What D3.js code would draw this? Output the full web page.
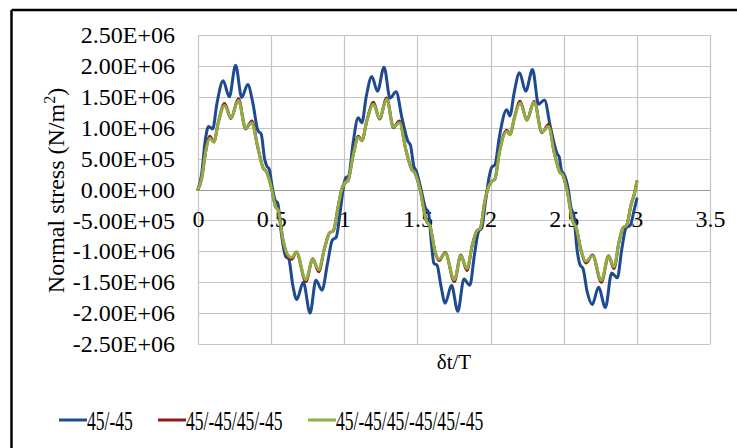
<!DOCTYPE html>
<html>
<head>
<meta charset="utf-8">
<script src="https://cdn.jsdelivr.net/npm/d3@7"></script>
<style>
  html, body { margin: 0; padding: 0; background: #fff; overflow: hidden; }
  svg { display: block; }
  svg text { font-family: "Liberation Serif", "DejaVu Serif", serif; fill: #000; }
</style>
</head>
<body>
<svg id="chart" width="737" height="448"></svg>
<script>
// Tick values
const xTicks = [0, 0.5, 1, 1.5, 2, 2.5, 3, 3.5];
const yTicks = [-2.5e6, -2e6, -1.5e6, -1e6, -5e5, 0, 5e5, 1e6, 1.5e6, 2e6, 2.5e6];

// Series names
const seriesNames = ["45/-45", "45/-45/45/-45", "45/-45/45/-45/45/-45"];

// 45/-45 laminate: time (δt/T) and normal stress (N/m²)
const tBlue = [
  0.000, 0.025, 0.050, 0.072, 0.100, 0.130, 0.172, 0.214, 0.257, 0.299, 0.340, 0.375,
  0.410, 0.432, 0.455, 0.470, 0.487, 0.507, 0.527, 0.545, 0.572, 0.600, 0.620, 0.648,
  0.675, 0.720, 0.766, 0.806, 0.848, 0.885, 0.918, 0.945, 0.970, 0.995, 1.010, 1.030,
  1.060, 1.095, 1.120, 1.150, 1.188, 1.227, 1.272, 1.313, 1.354, 1.395, 1.435, 1.452,
  1.475, 1.492, 1.525, 1.555, 1.575, 1.595, 1.612, 1.635, 1.660, 1.690, 1.733, 1.776,
  1.818, 1.858, 1.890, 1.918, 1.940, 1.965, 1.990, 2.008, 2.030, 2.060, 2.110, 2.132,
  2.160, 2.198, 2.240, 2.287, 2.328, 2.368, 2.410, 2.455, 2.470, 2.485, 2.502, 2.533,
  2.550, 2.568, 2.590, 2.612, 2.632, 2.660, 2.695, 2.738, 2.785, 2.828, 2.866, 2.898,
  2.926, 2.955, 2.980, 3.000
];
const sBlue = [
  0.00e6, 0.25e6, 0.80e6, 1.02e6, 0.98e6, 1.40e6, 1.76e6, 1.50e6, 2.01e6, 1.49e6, 1.70e6, 1.40e6,
  0.95e6, 0.90e6, 0.50e6, 0.38e6, 0.33e6, 0.05e6, -0.17e6, -0.22e6, -0.75e6, -1.09e6, -1.12e6, -1.55e6,
  -1.78e6, -1.50e6, -2.00e6, -1.47e6, -1.63e6, -1.20e6, -0.82e6, -0.77e6, -0.40e6, 0.05e6, 0.19e6, 0.22e6,
  0.75e6, 1.16e6, 1.08e6, 1.50e6, 1.83e6, 1.59e6, 1.98e6, 1.48e6, 1.58e6, 1.15e6, 0.78e6, 0.72e6,
  0.38e6, 0.30e6, 0.00e6, -0.30e6, -0.37e6, -0.85e6, -1.19e6, -1.23e6, -1.55e6, -1.84e6, -1.55e6, -1.97e6,
  -1.45e6, -1.55e6, -1.05e6, -0.68e6, -0.62e6, -0.20e6, 0.20e6, 0.36e6, 0.40e6, 0.85e6, 1.29e6, 1.19e6,
  1.55e6, 1.89e6, 1.59e6, 1.94e6, 1.38e6, 1.45e6, 1.00e6, 0.58e6, 0.52e6, 0.30e6, 0.25e6, -0.02e6,
  -0.30e6, -0.40e6, -0.95e6, -1.22e6, -1.28e6, -1.65e6, -1.86e6, -1.58e6, -1.91e6, -1.35e6, -1.43e6, -0.95e6,
  -0.62e6, -0.58e6, -0.35e6, -0.15e6
];

// 45/-45/45/-45 and 45/-45/45/-45/45/-45 laminates share the same time points
const tLayered = [
  0.000, 0.025, 0.055, 0.082, 0.108, 0.140, 0.182, 0.225, 0.276, 0.326, 0.368, 0.405,
  0.447, 0.465, 0.505, 0.530, 0.548, 0.580, 0.612, 0.640, 0.672, 0.737, 0.785, 0.825,
  0.865, 0.900, 0.925, 0.960, 0.985, 1.005, 1.025, 1.060, 1.097, 1.120, 1.155, 1.200,
  1.240, 1.290, 1.336, 1.377, 1.420, 1.462, 1.480, 1.518, 1.560, 1.587, 1.620, 1.648,
  1.690, 1.752, 1.797, 1.838, 1.875, 1.906, 1.930, 1.960, 1.982, 2.009, 2.030, 2.060,
  2.111, 2.132, 2.165, 2.202, 2.248, 2.298, 2.351, 2.396, 2.435, 2.476, 2.492, 2.522,
  2.560, 2.585, 2.620, 2.652, 2.697, 2.757, 2.807, 2.843, 2.878, 2.905, 2.930, 2.960,
  2.985, 3.000
];
const sRed = [
  0.00e6, 0.18e6, 0.65e6, 0.86e6, 0.77e6, 1.10e6, 1.39e6, 1.15e6, 1.47e6, 0.98e6, 1.11e6, 0.72e6,
  0.34e6, 0.30e6, 0.00e6, -0.28e6, -0.33e6, -0.80e6, -1.07e6, -1.13e6, -1.01e6, -1.49e6, -1.12e6, -1.33e6,
  -0.95e6, -0.70e6, -0.67e6, -0.25e6, 0.02e6, 0.11e6, 0.14e6, 0.55e6, 0.86e6, 0.79e6, 1.12e6, 1.41e6,
  1.14e6, 1.48e6, 1.00e6, 1.11e6, 0.65e6, 0.32e6, 0.28e6, 0.00e6, -0.50e6, -0.60e6, -1.00e6, -1.15e6,
  -1.02e6, -1.49e6, -1.06e6, -1.31e6, -0.90e6, -0.67e6, -0.63e6, -0.20e6, 0.02e6, 0.13e6, 0.17e6, 0.60e6,
  0.96e6, 0.89e6, 1.18e6, 1.43e6, 1.12e6, 1.43e6, 0.92e6, 1.05e6, 0.60e6, 0.27e6, 0.24e6, 0.00e6,
  -0.50e6, -0.62e6, -1.00e6, -1.19e6, -1.06e6, -1.50e6, -1.07e6, -1.28e6, -0.85e6, -0.62e6, -0.58e6, -0.25e6,
  -0.05e6, 0.13e6
];
const sGreen = [
  0.00e6, 0.18e6, 0.65e6, 0.83e6, 0.77e6, 1.10e6, 1.36e6, 1.16e6, 1.44e6, 0.99e6, 1.08e6, 0.72e6,
  0.34e6, 0.30e6, 0.00e6, -0.28e6, -0.33e6, -0.80e6, -1.05e6, -1.10e6, -1.01e6, -1.46e6, -1.13e6, -1.30e6,
  -0.95e6, -0.70e6, -0.67e6, -0.25e6, 0.02e6, 0.11e6, 0.14e6, 0.55e6, 0.84e6, 0.79e6, 1.12e6, 1.38e6,
  1.15e6, 1.46e6, 1.01e6, 1.08e6, 0.65e6, 0.32e6, 0.28e6, 0.00e6, -0.50e6, -0.60e6, -1.00e6, -1.13e6,
  -1.03e6, -1.46e6, -1.07e6, -1.28e6, -0.90e6, -0.67e6, -0.63e6, -0.20e6, 0.02e6, 0.13e6, 0.17e6, 0.60e6,
  0.94e6, 0.89e6, 1.18e6, 1.40e6, 1.13e6, 1.41e6, 0.93e6, 1.02e6, 0.60e6, 0.27e6, 0.24e6, 0.00e6,
  -0.50e6, -0.62e6, -1.00e6, -1.16e6, -1.07e6, -1.47e6, -1.08e6, -1.25e6, -0.85e6, -0.62e6, -0.58e6, -0.25e6,
  -0.05e6, 0.13e6
];

const FONT = '"Liberation Serif", "DejaVu Serif", serif';
const svg = d3.select("#chart");
const W = 737, H = 448;

// Outer frame of the chart object (top and left edges fall inside the view)
svg.append("line").attr("x1", 11.5).attr("x2", W).attr("y1", 10).attr("y2", 10)
  .attr("stroke", "#000").attr("stroke-width", 2.5);
svg.append("line").attr("x1", 11.5).attr("x2", 11.5).attr("y1", 10).attr("y2", H)
  .attr("stroke", "#000").attr("stroke-width", 2.5);

const plot = { left: 198, right: 710, top: 35, bottom: 344 };

const x = d3.scaleLinear().domain([0, 3.5]).range([plot.left, plot.right]);
const y = d3.scaleLinear().domain([-2.5e6, 2.5e6]).range([plot.bottom, plot.top]);

// Gridlines
const grid = svg.append("g").attr("stroke", "#c4c4c4").attr("stroke-width", 1.2);
grid.selectAll("line.h").data(yTicks).join("line")
  .attr("x1", plot.left).attr("x2", plot.right)
  .attr("y1", d => Math.round(y(d)) + 0.5).attr("y2", d => Math.round(y(d)) + 0.5);
grid.selectAll("line.v").data(xTicks).join("line")
  .attr("y1", plot.top).attr("y2", plot.bottom)
  .attr("x1", d => Math.round(x(d)) + 0.5).attr("x2", d => Math.round(x(d)) + 0.5);

// Horizontal axis line at zero stress
svg.append("line")
  .attr("x1", plot.left).attr("x2", plot.right)
  .attr("y1", Math.round(y(0)) + 0.5).attr("y2", Math.round(y(0)) + 0.5)
  .attr("stroke", "#9a9a9a").attr("stroke-width", 1.2);

// Scientific tick format like 2.50E+06
const sci = v => {
  const [m, e] = v.toExponential(2).split("e");
  const ex = parseInt(e, 10);
  return m + "E" + (ex < 0 ? "-" : "+") + String(Math.abs(ex)).padStart(2, "0");
};

const yAxis = svg.append("g")
  .attr("transform", `translate(${plot.left},0)`)
  .call(d3.axisLeft(y).tickValues(yTicks).tickFormat(sci).tickSize(0).tickPadding(23))
  .attr("font-family", FONT).attr("font-size", 24);
yAxis.select(".domain").remove();
yAxis.selectAll("text").attr("fill", "#000");

const xAxis = svg.append("g")
  .attr("transform", `translate(0,${y(0)})`)
  .call(d3.axisBottom(x).tickValues(xTicks).tickFormat(d3.format("")).tickSize(0).tickPadding(20))
  .attr("font-family", FONT).attr("font-size", 24);
xAxis.select(".domain").remove();
xAxis.selectAll("text").attr("fill", "#000");

// Axis titles
const yTitle = svg.append("text")
  .attr("transform", `translate(64,${(plot.top + plot.bottom) / 2 + 1}) rotate(-90)`)
  .attr("text-anchor", "middle").attr("font-family", FONT).attr("font-size", 24);
yTitle.append("tspan").text("Normal stress (N/m");
yTitle.append("tspan").attr("dy", -9).attr("font-size", 16).text("2");
yTitle.append("tspan").attr("dy", 9).text(")");

svg.append("text")
  .attr("x", (plot.left + plot.right) / 2).attr("y", 369)
  .attr("text-anchor", "middle").attr("font-family", FONT).attr("font-size", 21).text("δt/T");

// Series lines
const colors = ["#1f4a8f", "#8c1c1c", "#8fae45"];
const seriesData = [
  d3.zip(tBlue, sBlue),
  d3.zip(tLayered, sRed),
  d3.zip(tLayered, sGreen)
];
const line = d3.line().x(d => x(d[0])).y(d => y(d[1])).curve(d3.curveMonotoneX);
svg.append("g").selectAll("path").data(seriesData).join("path")
  .attr("d", line)
  .attr("fill", "none")
  .attr("stroke", (d, i) => colors[i])
  .attr("stroke-width", 3)
  .attr("stroke-linejoin", "round")
  .attr("stroke-linecap", "round");

// Legend
const legendX = [59, 158, 308];
const legend = svg.append("g").selectAll("g").data(seriesNames).join("g")
  .attr("transform", (d, i) => `translate(${legendX[i]},420)`);
legend.append("line")
  .attr("x1", 0).attr("x2", 28).attr("y1", 0).attr("y2", 0)
  .attr("stroke", (d, i) => colors[i]).attr("stroke-width", 3);
legend.append("text")
  .attr("transform", "translate(28,10) scale(0.65,1)")
  .attr("font-family", FONT).attr("font-size", 27)
  .text(d => d);
</script>
</body>
</html>
